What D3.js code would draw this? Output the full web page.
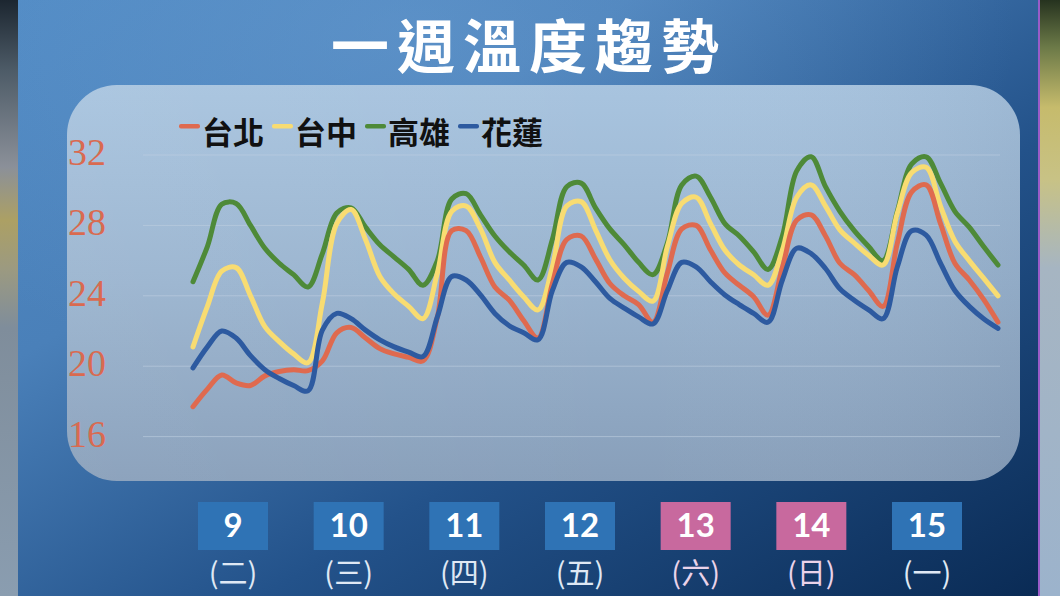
<!DOCTYPE html>
<html><head><meta charset="utf-8">
<script src="https://cdn.jsdelivr.net/npm/d3@7"></script>
<style>html,body{margin:0;padding:0;background:#1a3a60;overflow:hidden}</style>
</head><body>
<script>
// ---- data ----
const title = "一週溫度趨勢";
const seriesNames = ["高雄", "台中", "台北", "花蓮"];
const legendOrder = ["台北", "台中", "高雄", "花蓮"];
const yTicks = [16, 20, 24, 28, 32];
const dayNums = ["9", "10", "11", "12", "13", "14", "15"];
const dayNames = ["(二)", "(三)", "(四)", "(五)", "(六)", "(日)", "(一)"];
const weekend = [false, false, false, false, true, true, false];

// 3-hourly readings, 9日06時 → 16日06時
const kaohsiung = [24.8,26.8,29.2,29.25,28.0,26.7,25.85,25.2,24.5,
  26.4,28.7,29.0,27.9,26.9,26.2,25.5,24.6,
  26.0,29.5,29.8,28.6,27.4,26.5,25.75,24.9,
  27.2,30.2,30.4,29.0,27.8,26.9,25.9,25.2,
  27.0,30.3,30.8,29.6,28.1,27.4,26.5,25.5,
  27.4,31.1,31.9,30.2,28.8,27.7,26.8,26.0,
  28.8,31.5,31.9,30.4,28.8,27.9,26.8,25.75];
const taichung = [21.1,23.4,25.4,25.6,24.0,22.25,21.4,20.7,20.2,
  23.6,28.1,28.9,27.2,25.1,24.1,23.4,22.7,
  25.3,28.8,29.1,27.8,25.9,24.9,23.95,23.2,
  25.65,29.1,29.35,27.75,26.05,25.0,24.25,23.7,
  26.8,29.25,29.6,28.1,26.6,25.75,25.2,24.6,
  26.6,29.6,30.3,29.1,27.75,27.0,26.3,25.75,
  28.7,31.0,31.3,29.1,27.1,26.0,25.0,24.0];
const taipei = [17.7,18.7,19.5,19.05,18.9,19.45,19.7,19.8,19.75,
  20.3,21.9,22.2,21.6,21.0,20.7,20.5,20.3,
  22.8,27.7,27.7,26.2,24.5,23.75,22.6,21.6,
  24.7,27.2,27.4,26.1,24.7,24.0,23.5,22.5,
  25.3,27.8,28.0,26.6,25.3,24.6,23.95,22.9,
  25.6,28.3,28.6,27.4,25.85,25.2,24.3,23.4,
  27.0,29.9,30.3,28.1,25.85,24.9,23.8,22.5];
const hualien = [19.9,21.1,22.0,21.6,20.6,19.8,19.3,18.9,18.6,
  22.05,23.0,22.7,22.05,21.5,21.1,20.8,20.55,
  22.8,25.1,24.9,24.05,23.0,22.3,21.9,21.5,
  24.3,25.9,25.65,24.8,23.85,23.3,22.8,22.4,
  24.3,25.9,25.65,24.8,24.05,23.5,23.0,22.5,
  24.9,26.7,26.4,25.55,24.4,23.75,23.2,22.7,
  25.65,27.7,27.45,25.85,24.3,23.4,22.7,22.15];
const seriesValues = {"高雄": kaohsiung, "台中": taichung, "台北": taipei, "花蓮": hualien};
const seriesColors = {"高雄": "#4e8a38", "台中": "#f8dc72", "台北": "#df6a4f", "花蓮": "#2d5aa0"};

// ---- drawing ----
const W = 1060, H = 596;
const svg = d3.select("body").append("svg").attr("width", W).attr("height", H);
const defs = svg.append("defs");

function lin(id, x1, y1, x2, y2, stops) {
  const g = defs.append("linearGradient").attr("id", id)
    .attr("x1", x1).attr("y1", y1).attr("x2", x2).attr("y2", y2);
  stops.forEach(s => g.append("stop").attr("offset", s[0]).attr("stop-color", s[1]));
}
lin("bgGrad", 0, 0, 1, 1, [[0, "#4f89c3"], [0.3, "#4a80b9"], [0.62, "#23528a"], [1, "#0a2b55"]]);
lin("panelGrad", 0, 0, 0, 1, [[0, "#a8c4df"], [0.5, "#9ab4cf"], [1, "#889fba"]]);
lin("panelH", 0, 0, 1, 0, [[0, "rgba(255,255,255,0.05)"], [0.6, "rgba(255,255,255,0)"], [1, "rgba(40,60,90,0.08)"]]);
lin("leftStrip", 0, 0, 0, 1, [[0, "#1c2630"], [0.12, "#4e5c68"], [0.28, "#8b9099"], [0.37, "#aca064"], [0.45, "#9c9a80"], [0.55, "#7f8d9b"], [1, "#8a9db0"]]);
lin("rightStrip", 0, 0, 0, 1, [[0, "#26331f"], [0.08, "#6c7a48"], [0.18, "#c6bb6c"], [0.3, "#c8c285"], [0.45, "#a6b5c2"], [1, "#9cb3cc"]]);
const rg = defs.append("radialGradient").attr("id", "glow").attr("cx", 0.38).attr("cy", 0.05).attr("r", 0.6);
rg.append("stop").attr("offset", 0).attr("stop-color", "rgba(120,170,220,0.35)");
rg.append("stop").attr("offset", 1).attr("stop-color", "rgba(120,170,220,0)");

svg.append("rect").attr("x", 0).attr("y", 0).attr("width", 18).attr("height", H).attr("fill", "url(#leftStrip)");
svg.append("rect").attr("x", 1038).attr("y", 0).attr("width", 22).attr("height", H).attr("fill", "url(#rightStrip)");
svg.append("rect").attr("x", 1038).attr("y", 0).attr("width", 2).attr("height", H).attr("fill", "#9a5cc8");
svg.append("rect").attr("x", 18).attr("y", 0).attr("width", 1020).attr("height", H).attr("fill", "url(#bgGrad)");
svg.append("rect").attr("x", 18).attr("y", 0).attr("width", 1020).attr("height", H).attr("fill", "url(#glow)");

// panel
svg.append("rect").attr("x", 67).attr("y", 85).attr("width", 953).attr("height", 396)
  .attr("rx", 50).attr("fill", "url(#panelGrad)");
svg.append("rect").attr("x", 67).attr("y", 85).attr("width", 953).attr("height", 396)
  .attr("rx", 50).attr("fill", "url(#panelH)");

// scales
const n = kaohsiung.length;
const x = d3.scaleLinear().domain([0, n - 1]).range([193, 998]);
const y = d3.scaleLinear().domain([16, 32]).range([436.6, 155]);

// grid
svg.append("g").selectAll("line").data(yTicks).join("line")
  .attr("x1", 143).attr("x2", 1000)
  .attr("y1", d => y(d)).attr("y2", d => y(d))
  .attr("stroke", "#c3d2e2").attr("stroke-opacity", 0.55).attr("stroke-width", 1);

// y labels
svg.append("g").selectAll("text").data(yTicks).join("text")
  .attr("x", 106).attr("y", d => y(d) + 10)
  .attr("text-anchor", "end")
  .attr("font-family", "'Liberation Serif', 'DejaVu Serif', serif")
  .attr("font-size", 38).attr("fill", "#d96a50")
  .text(d => d);

// lines
const line = d3.line().x((d, i) => x(i)).y(d => y(d)).curve(d3.curveCatmullRom.alpha(0.5));
svg.append("g").selectAll("path").data(seriesNames).join("path")
  .attr("d", s => line(seriesValues[s]))
  .attr("fill", "none").attr("stroke", s => seriesColors[s])
  .attr("stroke-width", 5).attr("stroke-linecap", "round").attr("stroke-linejoin", "round");

// legend
const lg = svg.append("g");
let lx = 179;
legendOrder.forEach(s => {
  lg.append("rect").attr("x", lx).attr("y", 124).attr("width", 21).attr("height", 4.5)
    .attr("rx", 2).attr("fill", seriesColors[s]);
  const t = lg.append("text").attr("x", lx + 23).attr("y", 144)
    .attr("font-family", "'Noto Sans CJK TC', 'Noto Sans CJK SC', sans-serif")
    .attr("font-weight", 700).attr("font-size", 31).attr("fill", "#111")
    .text(s);
  lx += 23 + t.node().getComputedTextLength() + 8;
});

// title
svg.append("text").attr("x", 529).attr("y", 68).attr("text-anchor", "middle")
  .attr("font-family", "'Noto Sans CJK TC', 'Noto Sans CJK SC', sans-serif")
  .attr("font-weight", 700).attr("font-size", 58).attr("fill", "#ffffff")
  .attr("letter-spacing", 8)
  .text(title);

// date boxes
const xd = d3.scalePoint().domain(dayNums).range([233, 927]);
const dg = svg.append("g").selectAll("g").data(dayNums).join("g")
  .attr("transform", d => `translate(${xd(d)},0)`);
dg.append("rect").attr("x", -35).attr("y", 502).attr("width", 70).attr("height", 48)
  .attr("fill", (d, i) => weekend[i] ? "#c8699e" : "#2f73b5");
dg.append("text").attr("x", 0).attr("y", 537).attr("text-anchor", "middle")
  .attr("font-family", "Lato, 'Noto Sans', sans-serif").attr("font-weight", 700)
  .attr("font-size", 33).attr("fill", "#ffffff").text(d => d);
dg.append("text").attr("x", 0).attr("y", 584).attr("text-anchor", "middle")
  .attr("font-family", "'Noto Sans CJK TC', 'Noto Sans CJK SC', sans-serif")
  .attr("font-size", 29).attr("fill", (d, i) => weekend[i] ? "#ead3ea" : "#dfe8f4")
  .text((d, i) => dayNames[i]);
</script>
</body></html>
